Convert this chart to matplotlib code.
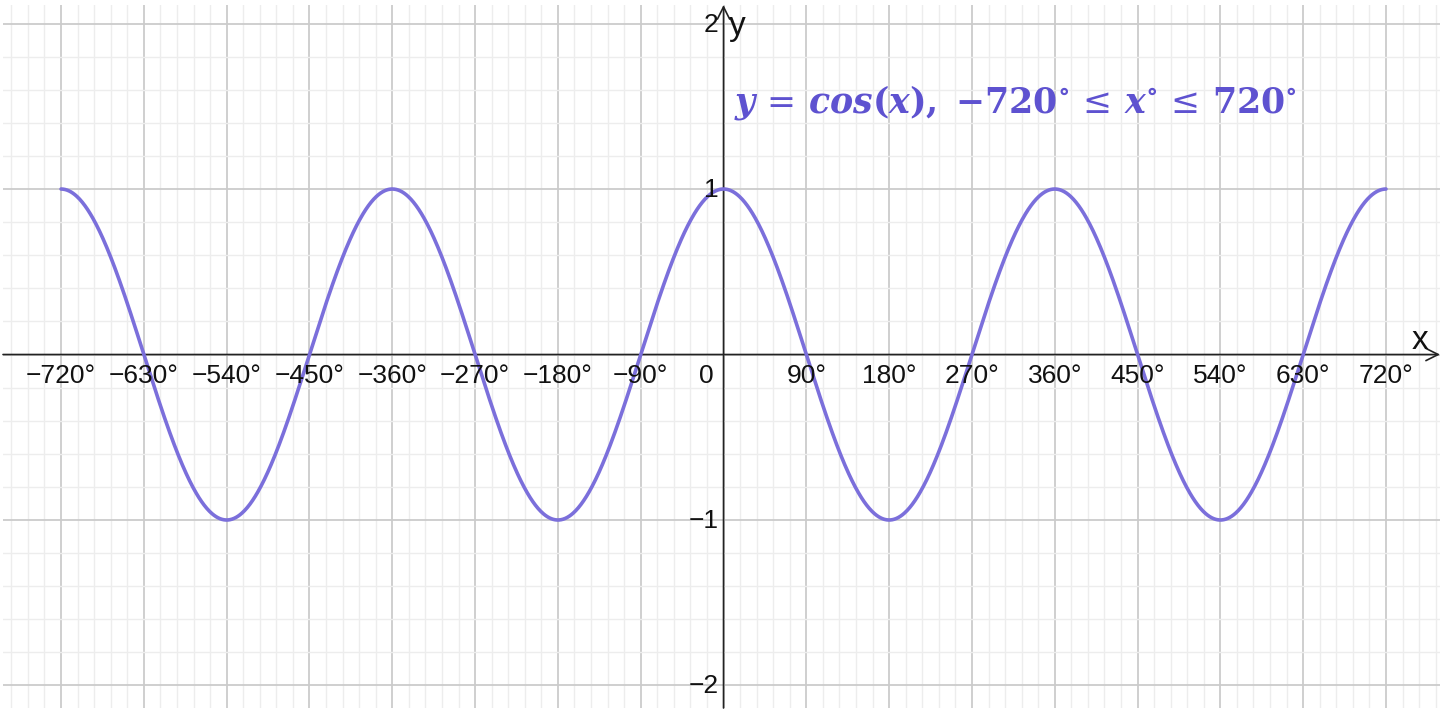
import numpy as np
import matplotlib
matplotlib.use("Agg")
import matplotlib.pyplot as plt
from matplotlib.ticker import MultipleLocator
import matplotlib.transforms as mtransforms

# ---- data ----
x_min_deg = -720
x_max_deg = 720
x_tick_values = [-720, -630, -540, -450, -360, -270, -180, -90, 90, 180, 270, 360, 450, 540, 630, 720]
x_tick_labels = ["\u2212720°", "\u2212630°", "\u2212540°", "\u2212450°", "\u2212360°", "\u2212270°",
                 "\u2212180°", "\u221290°", "90°", "180°", "270°", "360°", "450°", "540°", "630°", "720°"]
y_tick_values = [-2, -1, 1, 2]
y_tick_labels = ["\u22122", "\u22121", "1", "2"]
title_text = (r"$\mathbfit{y}\,=\,\mathbfit{cos}\mathbf{(}\mathbfit{x}\mathbf{),}\ "
              r"\mathbf{-720}^{\mathbf{\circ}}\,\leq\,\mathbfit{x}^{\mathbf{\circ}}\,\leq\,"
              r"\mathbf{720}^{\mathbf{\circ}}$")

# function stated in the chart: y = cos(x) on the given domain
x = np.linspace(x_min_deg, x_max_deg, 2001)
y = np.cos(np.radians(x))

plt.rcParams['font.family'] = ['Liberation Sans', 'DejaVu Sans']
plt.rcParams['mathtext.fontset'] = 'dejavuserif'

W, H = 1445, 714
fig = plt.figure(figsize=(W / 100, H / 100), dpi=100)
ax = fig.add_axes([3 / W, 1 - 708 / H, 1437 / W, 703 / H])

xlim = (-783.1, 778.7)
ylim = (-2.136, 2.112)
ax.set_xlim(*xlim)
ax.set_ylim(*ylim)

# grid
ax.xaxis.set_major_locator(MultipleLocator(90))
ax.xaxis.set_minor_locator(MultipleLocator(18))
ax.yaxis.set_major_locator(MultipleLocator(1))
ax.yaxis.set_minor_locator(MultipleLocator(0.2))
ax.grid(which='major', color='#cbcbcb', lw=1.3, zorder=0)
ax.grid(which='minor', color='#ededed', lw=1.0, zorder=0)
ax.set_axisbelow(True)
ax.tick_params(which='both', length=0, labelbottom=False, labelleft=False)

for s in ax.spines.values():
    s.set_visible(False)

# axes lines with arrows
ax.annotate('', xy=(xlim[1], 0), xytext=(xlim[0], 0),
            arrowprops=dict(arrowstyle='->', color='#222222', lw=1.2,
                            shrinkA=0, shrinkB=0, mutation_scale=22), zorder=3)
ax.annotate('', xy=(0, ylim[1]), xytext=(0, ylim[0]),
            arrowprops=dict(arrowstyle='->', color='#222222', lw=1.2,
                            shrinkA=0, shrinkB=0, mutation_scale=22), zorder=3)

# curve
ax.plot(x, y, color='#7b6fdb', lw=2.6, zorder=4, solid_capstyle='round')

# tick labels
px = mtransforms.offset_copy
for v, lab in zip(x_tick_values, x_tick_labels):
    ax.text(v, 0, lab, transform=px(ax.transData, fig=fig, x=0, y=-21, units='dots'),
            ha='center', va='center', fontsize=19, color='#111111', zorder=5)
for v, lab in zip(y_tick_values, y_tick_labels):
    ax.text(0, v, lab, transform=px(ax.transData, fig=fig, x=-5, y=-1, units='dots'),
            ha='right', va='center', fontsize=19, color='#111111', zorder=5)
ax.text(0, 0, "0", transform=px(ax.transData, fig=fig, x=-17, y=-21, units='dots'),
        ha='center', va='center', fontsize=19, color='#111111', zorder=5)

# axis names
ax.text(xlim[1], 0, "x", transform=px(ax.transData, fig=fig, x=-20, y=14, units='dots'),
        ha='center', va='center', fontsize=24, color='#111111')
ax.text(0, ylim[1], "y", transform=px(ax.transData, fig=fig, x=14, y=-22, units='dots'),
        ha='center', va='center', fontsize=24, color='#111111')

# title
ax.text(0, 1.52, title_text, transform=px(ax.transData, fig=fig, x=10, y=0, units='dots'),
        ha='left', va='center', fontsize=25, color='#5e52d0', zorder=5)

fig.savefig("out.png", dpi=100)
